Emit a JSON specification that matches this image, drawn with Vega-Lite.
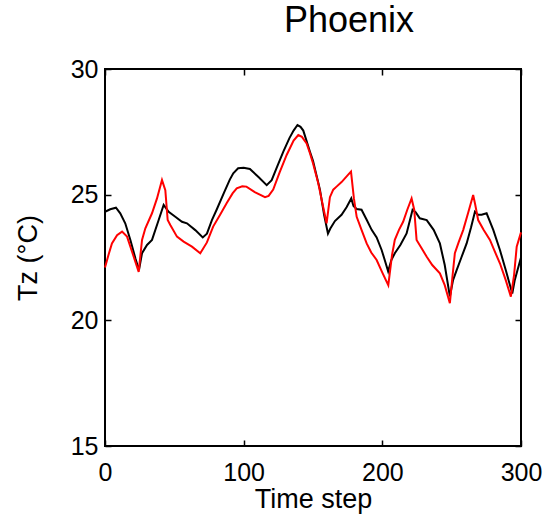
{
  "$schema": "https://vega.github.io/schema/vega-lite/v6.json",
  "width": 416,
  "height": 377,
  "autosize": {"type": "none"},
  "padding": {"left": 105, "top": 69, "right": 24, "bottom": 69},
  "config": {"view": {"stroke": "black", "strokeWidth": 2}, "font": "Liberation Sans"},
  "title": {"text": "Phoenix", "fontSize": 36, "font": "Liberation Sans", "fontWeight": "normal", "color": "black", "dx": 36, "offset": 17},
  "datasets": {
    "measured": [
      {"t":0,"T":24.32},{"t":3.8,"T":24.42},{"t":7.9,"T":24.48},{"t":11,"T":24.26},{"t":14.6,"T":23.86},{"t":18.3,"T":23.2},{"t":21.9,"T":22.47},{"t":24.5,"T":22.0},{"t":26.7,"T":22.67},{"t":30.3,"T":23.0},{"t":33.9,"T":23.2},{"t":38.7,"T":23.99},{"t":42.3,"T":24.59},{"t":45.9,"T":24.32},{"t":50.7,"T":24.12},{"t":55.5,"T":23.92},{"t":59.1,"T":23.86},{"t":65.1,"T":23.59},{"t":70.5,"T":23.3},{"t":73.5,"T":23.45},{"t":77.1,"T":23.99},{"t":80.5,"T":24.4},{"t":86,"T":25.1},{"t":90,"T":25.6},{"t":92.5,"T":25.85},{"t":96,"T":26.05},{"t":100,"T":26.07},{"t":104.5,"T":26.02},{"t":110.5,"T":25.71},{"t":116.6,"T":25.38},{"t":120.2,"T":25.58},{"t":124,"T":26.1},{"t":128.6,"T":26.71},{"t":133,"T":27.25},{"t":136,"T":27.55},{"t":138.8,"T":27.77},{"t":141,"T":27.7},{"t":143,"T":27.55},{"t":147.8,"T":26.71},{"t":150,"T":26.35},{"t":155,"T":25.2},{"t":158,"T":24.2},{"t":160.8,"T":23.45},{"t":162.5,"T":23.65},{"t":165.8,"T":23.95},{"t":170.6,"T":24.2},{"t":174.2,"T":24.5},{"t":177.6,"T":24.85},{"t":179.2,"T":24.55},{"t":181.5,"T":24.43},{"t":185,"T":24.4},{"t":188.7,"T":24.0},{"t":192.3,"T":23.6},{"t":195.9,"T":23.3},{"t":199.5,"T":22.8},{"t":202,"T":22.35},{"t":204.2,"T":21.95},{"t":206.5,"T":22.4},{"t":209,"T":22.67},{"t":213,"T":23.0},{"t":217.5,"T":23.46},{"t":221.8,"T":24.4},{"t":224,"T":24.3},{"t":227,"T":24.06},{"t":232,"T":23.99},{"t":237,"T":23.6},{"t":241.5,"T":23.06},{"t":245,"T":22.2},{"t":248.7,"T":20.95},{"t":251,"T":21.6},{"t":253.6,"T":22.0},{"t":257,"T":22.5},{"t":260.8,"T":23.06},{"t":264,"T":23.7},{"t":266.8,"T":24.32},{"t":269,"T":24.2},{"t":271.6,"T":24.2},{"t":275.2,"T":24.26},{"t":280,"T":23.6},{"t":284.8,"T":22.8},{"t":289,"T":22.0},{"t":293.7,"T":21.07},{"t":295.5,"T":21.6},{"t":297.5,"T":22.0},{"t":300,"T":22.5}
    ],
    "simulated": [
      {"t":0,"T":22.1},{"t":2.5,"T":22.6},{"t":5,"T":23.06},{"t":8.7,"T":23.39},{"t":12.3,"T":23.53},{"t":15.9,"T":23.33},{"t":19.5,"T":22.73},{"t":24.3,"T":21.93},{"t":26.7,"T":23.2},{"t":29.1,"T":23.66},{"t":33.9,"T":24.26},{"t":37.5,"T":24.85},{"t":41.1,"T":25.58},{"t":43.5,"T":25.18},{"t":45.2,"T":23.99},{"t":47.1,"T":23.79},{"t":51.9,"T":23.33},{"t":56.7,"T":23.13},{"t":62.7,"T":22.93},{"t":68.7,"T":22.67},{"t":73.5,"T":23.1},{"t":78,"T":23.73},{"t":83,"T":24.2},{"t":87.7,"T":24.66},{"t":92,"T":25.05},{"t":95,"T":25.25},{"t":99,"T":25.33},{"t":102,"T":25.32},{"t":108,"T":25.1},{"t":115.4,"T":24.9},{"t":118,"T":24.95},{"t":121.3,"T":25.2},{"t":126,"T":25.9},{"t":131,"T":26.58},{"t":136,"T":27.15},{"t":139.4,"T":27.37},{"t":142,"T":27.3},{"t":145.4,"T":27.04},{"t":147.8,"T":26.65},{"t":150,"T":26.25},{"t":153.8,"T":25.45},{"t":157,"T":24.6},{"t":159.8,"T":23.86},{"t":162.2,"T":24.9},{"t":164.6,"T":25.2},{"t":167,"T":25.32},{"t":170.6,"T":25.5},{"t":175.4,"T":25.8},{"t":177.4,"T":25.92},{"t":179.5,"T":24.85},{"t":181.5,"T":24.12},{"t":185,"T":23.6},{"t":188.7,"T":23.06},{"t":192,"T":22.7},{"t":195.9,"T":22.4},{"t":200,"T":21.9},{"t":204.3,"T":21.4},{"t":207,"T":22.6},{"t":209,"T":23.2},{"t":212,"T":23.6},{"t":215,"T":23.92},{"t":218,"T":24.4},{"t":221.1,"T":24.85},{"t":223,"T":24.4},{"t":224.7,"T":23.2},{"t":228,"T":22.9},{"t":232,"T":22.53},{"t":236,"T":22.2},{"t":241.5,"T":21.87},{"t":245,"T":21.4},{"t":248.7,"T":20.68},{"t":250.5,"T":21.7},{"t":252.3,"T":22.67},{"t":255,"T":23.1},{"t":258.3,"T":23.59},{"t":262,"T":24.3},{"t":265.5,"T":24.99},{"t":267,"T":24.6},{"t":269.1,"T":23.99},{"t":273,"T":23.6},{"t":277.6,"T":23.2},{"t":281,"T":22.75},{"t":284.8,"T":22.27},{"t":289,"T":21.6},{"t":292.7,"T":20.94},{"t":295,"T":21.8},{"t":296.9,"T":22.93},{"t":300,"T":23.5}
    ]
  },
  "layer": [
    {
      "data": {"name": "measured"},
      "mark": {"type": "line", "color": "black", "strokeWidth": 2},
      "encoding": {
        "x": {"field": "t", "type": "quantitative", "scale": {"domain": [0, 300], "nice": false},
          "axis": {"orient": "bottom", "values": [0, 100, 200, 300], "title": "Time step", "grid": false, "domain": false,
            "tickSize": -6, "tickColor": "black", "tickWidth": 1.5, "labelFontSize": 25, "labelColor": "black", "labelFlush": false,
            "labelPadding": 20, "titleFontSize": 27, "titleFontWeight": "normal", "titleColor": "black", "titlePadding": 1}},
        "y": {"field": "T", "type": "quantitative", "scale": {"domain": [15, 30], "nice": false},
          "axis": {"orient": "left", "values": [15, 20, 25, 30], "title": "Tz (°C)", "grid": false, "domain": false,
            "tickSize": -6, "tickColor": "black", "tickWidth": 1.5, "labelFontSize": 25, "labelColor": "black", "labelFlush": false,
            "labelPadding": 13, "titleFontSize": 27, "titleFontWeight": "normal", "titleColor": "black", "titlePadding": 28}}
      }
    },
    {
      "data": {"name": "simulated"},
      "mark": {"type": "line", "color": "#ff0000", "strokeWidth": 2},
      "encoding": {
        "x": {"field": "t", "type": "quantitative", "scale": {"domain": [0, 300], "nice": false},
          "axis": {"orient": "top", "values": [0, 100, 200, 300], "title": null, "labels": false, "grid": false, "domain": false,
            "tickSize": -6, "tickColor": "black", "tickWidth": 1.5}},
        "y": {"field": "T", "type": "quantitative", "scale": {"domain": [15, 30], "nice": false},
          "axis": {"orient": "right", "values": [15, 20, 25, 30], "title": null, "labels": false, "grid": false, "domain": false,
            "tickSize": -6, "tickColor": "black", "tickWidth": 1.5}}
      }
    }
  ],
  "resolve": {"axis": {"x": "independent", "y": "independent"}}
}
